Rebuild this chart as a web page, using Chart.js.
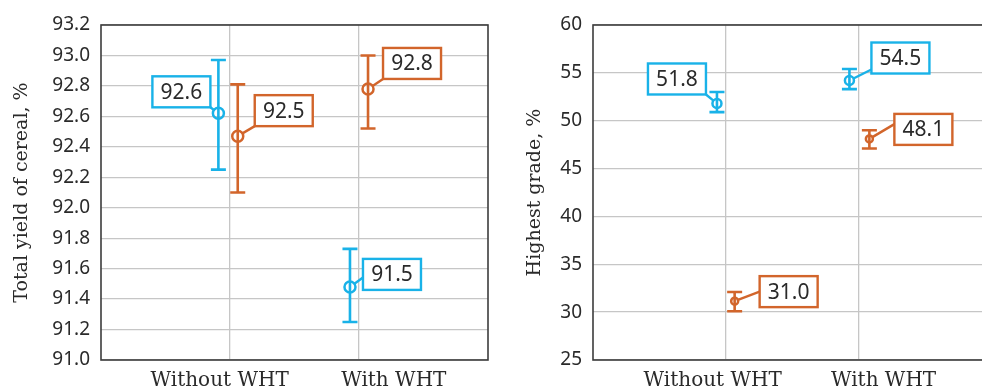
<!DOCTYPE html>
<html><head><meta charset="utf-8">
<script src="https://cdn.jsdelivr.net/npm/chart.js@4/dist/chart.umd.min.js"></script>
<style>
html,body{margin:0;padding:0;background:#fff;overflow:hidden;width:982px;height:390px;position:relative}
#w1{position:absolute;left:0;top:0;width:491px;height:390px}
#w2{position:absolute;left:500px;top:0;width:494px;height:390px}
</style></head><body>
<div id="w1"><canvas id="c1"></canvas></div>
<div id="w2"><canvas id="c2"></canvas></div>
<script>
var categories = ['Without WHT', 'With WHT'];

// total yield of cereal, %
var yieldBlue = [92.62, 91.48];
var yieldBlueLo = [92.25, 91.25];
var yieldBlueHi = [92.97, 91.73];
var yieldOrange = [92.47, 92.78];
var yieldOrangeLo = [92.10, 92.52];
var yieldOrangeHi = [92.81, 93.00];
var yieldBlueText = ['92.6', '91.5'];
var yieldOrangeText = ['92.5', '92.8'];
var yieldTicks = [91.0, 93.2, 0.2];

// highest grade, %
var gradeBlue = [51.8, 54.2];
var gradeBlueLo = [50.9, 53.3];
var gradeBlueHi = [53.0, 55.4];
var gradeOrange = [31.15, 48.1];
var gradeOrangeLo = [30.1, 47.1];
var gradeOrangeHi = [32.1, 49.0];
var gradeBlueText = ['51.8', '54.5'];
var gradeOrangeText = ['31.0', '48.1'];
var gradeTicks = [25, 60, 5];

var BLUE = '#19b2e8', ORANGE = '#d2652b';
var GRID = '#c6c6c6', FRAME = '#3c3c3c', TEXT = '#2a2a2a';
var SANS = 'Noto Sans', SERIF = 'DejaVu Serif';

// small per-point layout: x shift in category units, label box offset (px) and leader attach point
var layouts = {
  yield: {
    labelAt: [0.92, 2.27],
    blue:   {shift: [-0.09, -0.07], r: 5.5, box: [[-66, -37, 1, 1], [13, -28, 0, 0.6]]},
    orange: {shift: [0.06, 0.07],   r: 5.5, box: [[17, -41, 0, 1], [15, -41, 0, 1]]}
  },
  grade: {
    labelAt: [0.90, 2.185],
    blue:   {shift: [-0.068, -0.072], r: 4.5, box: [[-69, -40, 1, 1], [22, -38, 0, 0.87]]},
    orange: {shift: [0.065, 0.078],   r: 3.5, box: [[25, -25, 0, 0.5], [25, -25, 0, 0.33]]}
  }
};

function makeSet(vals, lo, hi, texts, color, lay) {
  return {
    data: vals.map(function(v, i){ return {x: i + 1 + lay.shift[i], y: v}; }),
    lo: lo, hi: hi, texts: texts, boxes: lay.box,
    borderColor: color, backgroundColor: 'rgba(0,0,0,0)',
    pointBorderColor: color, pointBackgroundColor: 'rgba(0,0,0,0)',
    pointRadius: lay.r, pointBorderWidth: 2.5, showLine: false
  };
}

var decor = {
  id: 'decor',
  beforeDatasetsDraw: function(chart) {
    var ctx = chart.ctx, xs = chart.scales.x, ys = chart.scales.y;
    ctx.save();
    chart.data.datasets.forEach(function(ds) {
      ctx.strokeStyle = ds.borderColor;
      ctx.lineWidth = 2.6;
      ds.data.forEach(function(p, i) {
        var px = xs.getPixelForValue(p.x);
        var t = ys.getPixelForValue(ds.hi[i]), b = ys.getPixelForValue(ds.lo[i]);
        ctx.beginPath();
        ctx.moveTo(px, t); ctx.lineTo(px, b);
        ctx.moveTo(px - 7.5, t); ctx.lineTo(px + 7.5, t);
        ctx.moveTo(px - 7.5, b); ctx.lineTo(px + 7.5, b);
        ctx.stroke();
      });
    });
    ctx.restore();
  },
  afterDatasetsDraw: function(chart) {
    var ctx = chart.ctx, xs = chart.scales.x, ys = chart.scales.y;
    var W = 58, H = 31;
    ctx.save();
    chart.data.datasets.forEach(function(ds) {
      ds.data.forEach(function(p, i) {
        var px = xs.getPixelForValue(p.x), py = ys.getPixelForValue(p.y);
        var bx = ds.boxes[i];
        var x0 = px + bx[0], y0 = py + bx[1];
        var ax = x0 + bx[2] * W, ay = y0 + bx[3] * H;
        var dx = ax - px, dy = ay - py, d = Math.sqrt(dx * dx + dy * dy);
        var r = ds.pointRadius;
        ctx.strokeStyle = ds.borderColor;
        ctx.lineWidth = 2.4;
        ctx.beginPath();
        ctx.moveTo(px + dx / d * r, py + dy / d * r);
        ctx.lineTo(ax, ay);
        ctx.stroke();
        ctx.fillStyle = '#fff';
        ctx.fillRect(x0, y0, W, H);
        ctx.strokeRect(x0, y0, W, H);
        ctx.fillStyle = TEXT;
        ctx.font = '21px "' + SANS + '"';
        ctx.textAlign = 'center';
        ctx.textBaseline = 'middle';
        ctx.fillText(ds.texts[i], x0 + W / 2, y0 + H / 2 + 1);
      });
    });
    var a = chart.chartArea;
    ctx.strokeStyle = FRAME;
    ctx.lineWidth = 1.6;
    ctx.strokeRect(a.left, a.top, a.right - a.left, a.bottom - a.top);
    ctx.restore();
  }
};

function makeChart(id, sets, ticks, digits, title, yWidth, padRight, titlePad, labelAt) {
  return new Chart(document.getElementById(id), {
    type: 'scatter',
    data: {datasets: sets},
    plugins: [decor],
    options: {
      responsive: true, maintainAspectRatio: false, animation: false,
      layout: {autoPadding: false, padding: {left: 0, top: 25, right: padRight, bottom: 0}},
      plugins: {legend: {display: false}, tooltip: {enabled: false}},
      scales: {
        x: {
          type: 'linear', min: 0, max: 3,
          afterBuildTicks: function(s) { s.ticks = [{value: 1}, {value: 2}]; },
          afterFit: function(s) { s.height = 0; s.paddingLeft = 0; s.paddingRight = 0; },
          ticks: {display: false},
          grid: {color: GRID, lineWidth: 1.3, drawTicks: false},
          border: {display: false}
        },
        xl: {
          type: 'linear', position: 'bottom', min: 0, max: 3,
          afterBuildTicks: function(s) { s.ticks = labelAt.map(function(v){ return {value: v}; }); },
          afterFit: function(s) { s.height = 30; s.paddingLeft = 0; s.paddingRight = 0; },
          ticks: {
            callback: function(v, i) { return categories[i]; },
            autoSkip: false, maxRotation: 0, padding: 9,
            font: {family: SERIF, size: 20}, color: TEXT
          },
          grid: {display: false, drawTicks: false},
          border: {display: false}
        },
        y: {
          min: ticks[0], max: ticks[1],
          afterFit: function(s) { s.width = yWidth; },
          ticks: {
            stepSize: ticks[2], padding: 11,
            callback: function(v) { return v.toFixed(digits); },
            font: {family: SANS, size: 19}, color: TEXT
          },
          grid: {color: GRID, lineWidth: 1.3, drawTicks: false},
          border: {display: false},
          title: {display: true, text: title, padding: {top: titlePad, bottom: 0},
                  font: {family: SERIF, size: 19}, color: TEXT}
        }
      }
    }
  });
}

makeChart('c1', [
  makeSet(yieldBlue, yieldBlueLo, yieldBlueHi, yieldBlueText, BLUE, layouts.yield.blue),
  makeSet(yieldOrange, yieldOrangeLo, yieldOrangeHi, yieldOrangeText, ORANGE, layouts.yield.orange)
], yieldTicks, 1, 'Total yield of cereal, %', 101, 3, 11, layouts.yield.labelAt);

makeChart('c2', [
  makeSet(gradeBlue, gradeBlueLo, gradeBlueHi, gradeBlueText, BLUE, layouts.grade.blue),
  makeSet(gradeOrange, gradeOrangeLo, gradeOrangeHi, gradeOrangeText, ORANGE, layouts.grade.orange)
], gradeTicks, 0, 'Highest grade, %', 93, 2, 24, layouts.grade.labelAt);
</script>
</body></html>
